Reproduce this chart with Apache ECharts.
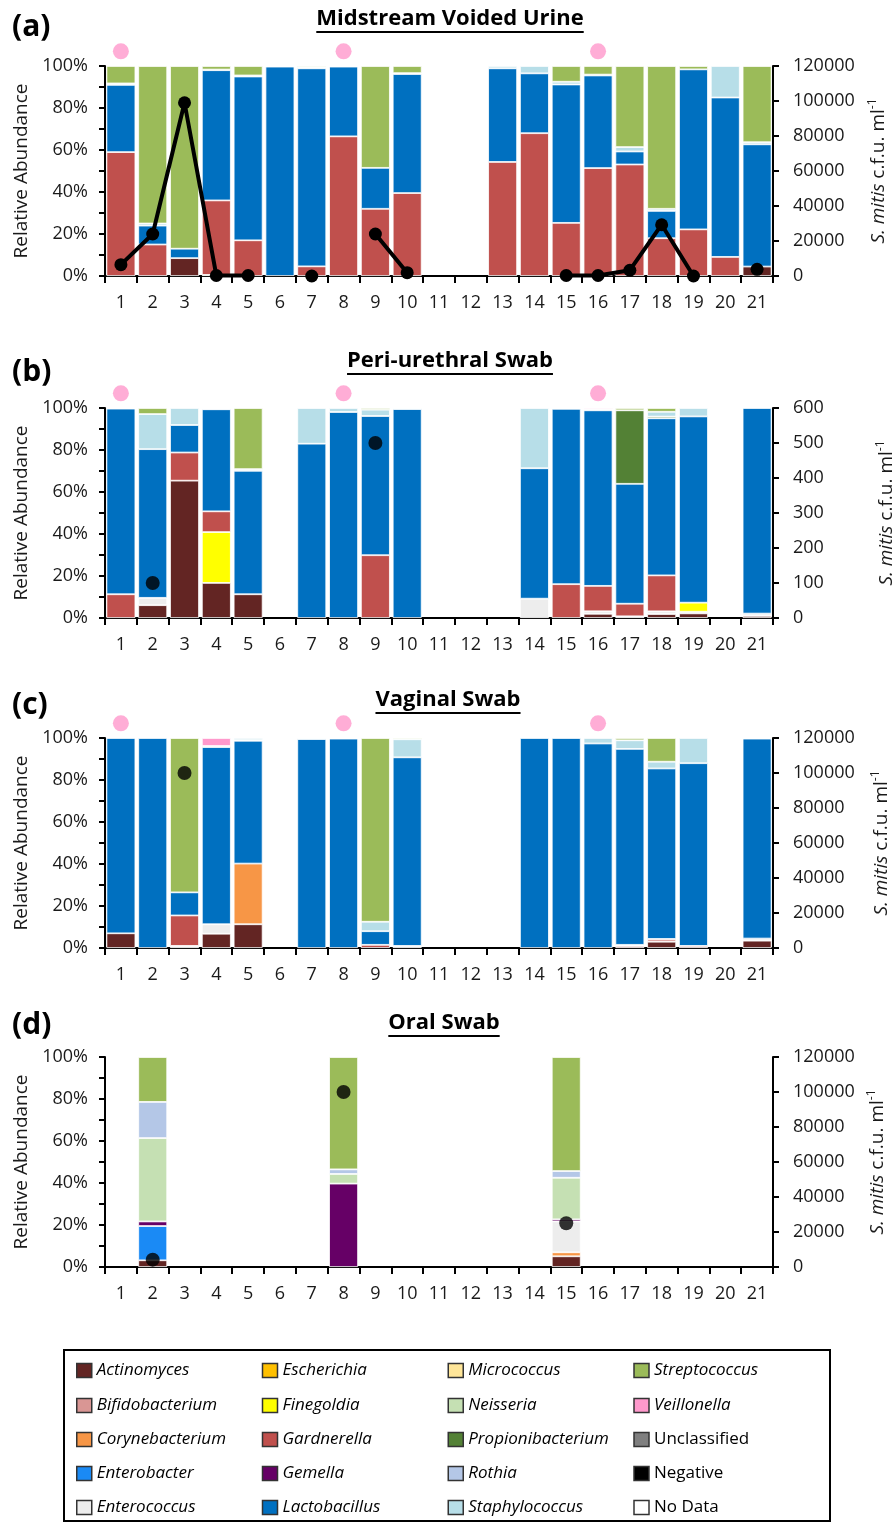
<!DOCTYPE html>
<html>
<head>
<meta charset="utf-8">
<script src="https://cdn.jsdelivr.net/npm/echarts@6/dist/echarts.min.js"></script>
<style>html,body{margin:0;padding:0;background:#fff}#c{width:895px;height:1523px}</style>
</head>
<body>
<div id="c"></div>
<script>
const _ = null;
const samples = ['1','2','3','4','5','6','7','8','9','10','11','12','13','14','15','16','17','18','19','20','21'];
const pctTicks = [0, 20, 40, 60, 80, 100];
const pinkDotSamples = ['1', '8', '16'];

// (a) Midstream Voided Urine
const urineActinomyces      = [_, _, 8.5, _, _, _, _, _, _, _, _, _, _, _, _, _, _, _, _, _, 4.5];
const urineFinegoldia       = [_, _, _, 0.5, _, _, _, _, _, _, _, _, _, _, _, _, _, _, _, _, _];
const urineGardnerella      = [59, 15, _, 35.5, 17, _, 4.6, 66.5, 32, 39.5, _, _, 54.3, 68, 25.3, 51.4, 53.1, 18, 22.2, 9.1, _];
const urineLactobacillus    = [32, 9, 4.5, 62, 78, 99.7, 94.3, 33.2, 19.5, 56.7, _, _, 44.6, 28.5, 65.9, 44.1, 6.2, 13, 76.2, 75.9, 58.2];
const urinePropionibacterium= [_, _, _, 0.3, _, _, _, _, _, _, _, _, _, _, _, _, _, _, _, _, _];
const urineStaphylococcus   = [0.7, 1, _, _, 0.5, 0.3, 0.5, 0.3, _, 0.4, _, _, 1.1, 3.5, 1.3, 0.4, 2.1, 1, _, 15, 1];
const urineStreptococcus    = [8.3, 75, 87, 1.7, 4.5, _, 0.6, _, 48.5, 3.4, _, _, _, _, 7.5, 4.1, 38.6, 68, 1.6, _, 36.3];
const urineMitis            = [6500, 24000, 99000, 300, 300, _, 0, _, 24000, 1900, _, _, _, _, 300, 300, 3300, 29300, 0, _, 3800];

// (b) Peri-urethral Swab
const periActinomyces       = [_, 6.1, 65.4, 16.7, 11.3, _, _, _, _, _, _, _, _, _, _, 2, _, 1.9, 2.2, _, 1];
const periEnterococcus      = [_, 3.5, _, _, _, _, _, _, _, _, _, _, _, 9.2, _, 1.2, 0.8, 1.3, 0.8, _, 1.1];
const periFinegoldia        = [_, _, _, 24.2, _, _, _, _, _, _, _, _, _, _, _, _, _, _, 4.3, _, _];
const periGardnerella       = [11.3, _, 13.4, 9.9, _, _, _, _, 29.9, _, _, _, _, _, 16.1, 12.1, 6, 17.1, _, _, _];
const periLactobacillus     = [88.4, 70.8, 13.1, 48.6, 58.8, _, 83, 98.1, 66.3, 99.5, _, _, _, 62.1, 83.5, 83.6, 57.1, 74.8, 88.7, _, 97.9];
const periPropionibacterium = [_, _, _, 0.4, _, _, _, _, _, _, _, _, _, _, _, _, 35, 0.8, _, _, _];
const periStaphylococcus    = [0.3, 16.7, 8.1, 0.2, 0.8, _, 17, 1.9, 3, 0.5, _, _, _, 28.7, 0.4, 0.5, _, 2.3, 4, _, _];
const periStreptococcus     = [_, 2.9, _, _, 29.1, _, _, _, 0.8, _, _, _, _, _, _, _, 1.1, 1.8, _, _, _];
const periVeillonella       = [_, _, _, _, _, _, _, _, _, _, _, _, _, _, _, 0.6, _, _, _, _, _];
const periMitis             = [_, 100, _, _, _, _, _, _, 500, _, _, _, _, _, _, _, _, _, _, _, _];

// (c) Vaginal Swab
const vagActinomyces        = [7, _, _, 6.8, 11.3, _, _, _, _, _, _, _, _, _, _, _, _, 3, _, _, 3.5];
const vagBifidobacterium    = [_, _, _, _, _, _, _, _, _, _, _, _, _, _, _, _, 1, 1.3, 1, _, _];
const vagCorynebacterium    = [_, _, _, _, 28.9, _, _, _, _, _, _, _, _, _, _, _, _, _, _, _, _];
const vagEnterococcus       = [_, _, 1, 4.5, _, _, _, _, _, 1, _, _, _, _, _, _, 0.5, _, _, _, 1];
const vagGardnerella        = [_, _, 14.5, _, _, _, _, _, 1.5, _, _, _, _, _, _, _, _, _, _, _, _];
const vagLactobacillus      = [93, 100, 11, 84.4, 58.5, _, 99.5, 99.7, 6.5, 89.8, _, _, _, 100, 100, 97.4, 93.3, 81.2, 87, _, 95.2];
const vagPropionibacterium  = [_, _, _, 0.5, 0.3, _, _, _, _, _, _, _, _, _, _, _, _, _, _, _, _];
const vagStaphylococcus     = [_, _, _, _, 1, _, 0.5, 0.3, 4.5, 8.6, _, _, _, _, _, 2.6, 4.1, 3.2, 12, _, 0.3];
const vagStreptococcus      = [_, _, 73.5, _, _, _, _, _, 87.5, 0.6, _, _, _, _, _, _, 1.1, 11.3, _, _, _];
const vagVeillonella        = [_, _, _, 3.8, _, _, _, _, _, _, _, _, _, _, _, _, _, _, _, _, _];
const vagMitis              = [_, _, 100000, _, _, _, _, _, _, _, _, _, _, _, _, _, _, _, _, _, _];

// (d) Oral Swab
const oralActinomyces       = [_, 3.2, _, _, _, _, _, _, _, _, _, _, _, _, 5.1, _, _, _, _, _, _];
const oralCorynebacterium   = [_, _, _, _, _, _, _, _, _, _, _, _, _, _, 1.9, _, _, _, _, _, _];
const oralEnterobacter      = [_, 16.3, _, _, _, _, _, _, _, _, _, _, _, _, _, _, _, _, _, _, _];
const oralEnterococcus      = [_, _, _, _, _, _, _, _, _, _, _, _, _, _, 14.7, _, _, _, _, _, _];
const oralGemella           = [_, 2.2, _, _, _, _, _, 39.7, _, _, _, _, _, _, 1, _, _, _, _, _, _];
const oralNeisseria         = [_, 39.7, _, _, _, _, _, 4.6, _, _, _, _, _, _, 19.8, _, _, _, _, _, _];
const oralRothia            = [_, 17.2, _, _, _, _, _, 2.2, _, _, _, _, _, _, 3.2, _, _, _, _, _, _];
const oralStreptococcus     = [_, 21.4, _, _, _, _, _, 53.5, _, _, _, _, _, _, 54.3, _, _, _, _, _, _];
const oralMitis             = [_, 4200, _, _, _, _, _, 100000, _, _, _, _, _, _, 25000, _, _, _, _, _, _];

const genera = ['Actinomyces','Bifidobacterium','Corynebacterium','Enterobacter','Enterococcus','Escherichia','Finegoldia','Gardnerella','Gemella','Lactobacillus','Micrococcus','Neisseria','Propionibacterium','Rothia','Staphylococcus','Streptococcus','Veillonella','Unclassified'];
const legendRows = [
  ['Actinomyces','Escherichia','Micrococcus','Streptococcus'],
  ['Bifidobacterium','Finegoldia','Neisseria','Veillonella'],
  ['Corynebacterium','Gardnerella','Propionibacterium','Unclassified'],
  ['Enterobacter','Gemella','Rothia','Negative'],
  ['Enterococcus','Lactobacillus','Staphylococcus','No Data']
];
const plainNames = ['Unclassified','Negative','No Data'];

const palette = {
  Actinomyces:'#632523', Bifidobacterium:'#D99694', Corynebacterium:'#F79646', Enterobacter:'#1A8AF5',
  Enterococcus:'#EDEDED', Escherichia:'#FFC000', Finegoldia:'#FFFF00', Gardnerella:'#C0504D',
  Gemella:'#660066', Lactobacillus:'#0070C0', Micrococcus:'#FFE699', Neisseria:'#C5E0B3',
  Propionibacterium:'#538135', Rothia:'#B4C7E7', Staphylococcus:'#B7DEE8', Streptococcus:'#9BBB59',
  Veillonella:'#FF99CC', Unclassified:'#7F7F7F', Negative:'#000000', 'No Data':'#FFFFFF'
};

const panels = [
  { title:'Midstream Voided Urine', letter:'(a)', mitisMax:120000, mitisStep:20000, mitisLine:true, pink:true, mitis:urineMitis,
    data:{Actinomyces:urineActinomyces, Finegoldia:urineFinegoldia, Gardnerella:urineGardnerella, Lactobacillus:urineLactobacillus,
          Propionibacterium:urinePropionibacterium, Staphylococcus:urineStaphylococcus, Streptococcus:urineStreptococcus} },
  { title:'Peri-urethral Swab', letter:'(b)', mitisMax:600, mitisStep:100, mitisLine:false, pink:true, mitis:periMitis,
    data:{Actinomyces:periActinomyces, Enterococcus:periEnterococcus, Finegoldia:periFinegoldia, Gardnerella:periGardnerella,
          Lactobacillus:periLactobacillus, Propionibacterium:periPropionibacterium, Staphylococcus:periStaphylococcus,
          Streptococcus:periStreptococcus, Veillonella:periVeillonella} },
  { title:'Vaginal Swab', letter:'(c)', mitisMax:120000, mitisStep:20000, mitisLine:false, pink:true, mitis:vagMitis,
    data:{Actinomyces:vagActinomyces, Bifidobacterium:vagBifidobacterium, Corynebacterium:vagCorynebacterium, Enterococcus:vagEnterococcus,
          Gardnerella:vagGardnerella, Lactobacillus:vagLactobacillus, Propionibacterium:vagPropionibacterium,
          Staphylococcus:vagStaphylococcus, Streptococcus:vagStreptococcus, Veillonella:vagVeillonella} },
  { title:'Oral Swab', letter:'(d)', mitisMax:120000, mitisStep:20000, mitisLine:false, pink:false, mitis:oralMitis,
    data:{Actinomyces:oralActinomyces, Corynebacterium:oralCorynebacterium, Enterobacter:oralEnterobacter, Enterococcus:oralEnterococcus,
          Gemella:oralGemella, Neisseria:oralNeisseria, Rothia:oralRothia, Streptococcus:oralStreptococcus} }
];

// layout
const FONT = '"Open Sans", "Noto Sans", sans-serif';
const gridTops = [66, 408, 738, 1057];
const gridH = 210;
const rightNameGap = [94, 102, 97, 92];
const titlePos = [[450, 19], [450, 361], [448, 700], [444, 1023]];
const letterPos = [[12, 27], [12, 372], [12, 705], [12, 1025]];
const TXT = '#1a1a1a';

const grids = [], xAxes = [], yAxes = [], series = [];
panels.forEach((p, i) => {
  grids.push({ left:105, right:122, top:gridTops[i], height:gridH, outerBoundsMode:'none', containLabel:false });
  xAxes.push({
    type:'category', gridIndex:i, data:samples,
    axisLine:{ show:true, lineStyle:{ color:'#000', width:2 } },
    axisTick:{ show:true, length:7, alignWithLabel:false, lineStyle:{ color:'#000', width:2 } },
    axisLabel:{ fontSize:18, color:TXT, fontFamily:FONT, margin:18, interval:0 },
    splitLine:{ show:false }
  });
  yAxes.push({
    type:'value', gridIndex:i, position:'left', min:0, max:100, interval:10,
    name:'Relative Abundance', nameLocation:'middle', nameGap:70, nameRotate:90,
    nameTextStyle:{ fontSize:19, color:TXT, fontFamily:FONT },
    axisLine:{ show:true, lineStyle:{ color:'#000', width:2 } },
    axisTick:{ show:true, length:6, lineStyle:{ color:'#000', width:2 } },
    axisLabel:{ fontSize:18, color:TXT, fontFamily:FONT, margin:17,
      formatter: v => pctTicks.indexOf(v) >= 0 ? v + '%' : '' },
    splitLine:{ show:false }
  });
  yAxes.push({
    type:'value', gridIndex:i, position:'right', min:0, max:p.mitisMax, interval:p.mitisStep,
    name:'{i|S. mitis} {n|c.f.u. ml}{s|-1}', nameLocation:'middle', nameGap:rightNameGap[i], nameRotate:90,
    nameTextStyle:{ fontSize:19, color:TXT, fontFamily:FONT,
      rich:{ i:{ fontStyle:'italic', fontSize:19, color:TXT, fontFamily:FONT, lineHeight:24 },
             n:{ fontSize:19, color:TXT, fontFamily:FONT, lineHeight:24 },
             s:{ fontSize:12, color:TXT, fontFamily:FONT, lineHeight:24, verticalAlign:'top', padding:[0,0,10,0] } } },
    axisLine:{ show:true, lineStyle:{ color:'#000', width:2 } },
    axisTick:{ show:true, length:6, lineStyle:{ color:'#000', width:2 } },
    axisLabel:{ fontSize:18, color:TXT, fontFamily:FONT, margin:20, formatter: v => String(v) },
    splitLine:{ show:false }
  });
  genera.forEach(g => {
    series.push({
      type:'bar', name:g, stack:'s' + i, xAxisIndex:i, yAxisIndex:2*i,
      data: p.data[g] || [],
      barCategoryGap:'9%',
      itemStyle:{ color:palette[g], borderColor:'#ffffff', borderWidth:0.8 },
      emphasis:{ disabled:true }
    });
  });
  if (p.mitisLine) {
    series.push({
      type:'line', name:'S. mitis ' + i, xAxisIndex:i, yAxisIndex:2*i+1, data:p.mitis,
      connectNulls:false, showSymbol:true, showAllSymbol:true, symbol:'circle', symbolSize:13,
      lineStyle:{ color:'#000', width:4 }, itemStyle:{ color:'#000' }, clip:false, z:5,
      emphasis:{ disabled:true }
    });
  } else {
    series.push({
      type:'scatter', name:'S. mitis ' + i, xAxisIndex:i, yAxisIndex:2*i+1, data:p.mitis,
      symbol:'circle', symbolSize:14, itemStyle:{ color:'#000' }, clip:false, z:5,
      emphasis:{ disabled:true }
    });
  }
  if (p.pink) {
    series.push({
      type:'scatter', name:'pink ' + i, xAxisIndex:i, yAxisIndex:2*i,
      data: pinkDotSamples.map(s => [s, 107]),
      symbol:'circle', symbolSize:16, itemStyle:{ color:'#FF99CC' }, clip:false, z:5,
      emphasis:{ disabled:true }
    });
  }
});
// legend-only entries (same stack so they take no bar slot)
series.push({ type:'bar', name:'Negative', stack:'s0', xAxisIndex:0, yAxisIndex:0, data:[], itemStyle:{ color:palette['Negative'] } });
series.push({ type:'bar', name:'No Data', stack:'s0', xAxisIndex:0, yAxisIndex:0, data:[], itemStyle:{ color:palette['No Data'] } });

const legendRowY = [1370, 1405, 1439, 1473, 1507];
const legends = legendRows.map((names, ri) => ({
  orient:'horizontal', left:76, top:legendRowY[ri] - 8, itemWidth:15, itemHeight:14, itemGap:5,
  icon:'rect', selectedMode:false, padding:0,
  data: names.map(n => ({ name:n, textStyle:{ fontStyle: plainNames.indexOf(n) >= 0 ? 'normal' : 'italic' } })),
  textStyle:{ fontSize:17, color:'#000', fontFamily:FONT, width:160, overflow:'none', lineHeight:16 },
  itemStyle:{ borderColor:'#333', borderWidth:1.5 }
}));

// titles with underline
const mctx = document.createElement('canvas').getContext('2d');
const titleFont = 'bold 22px "Open Sans"';
mctx.font = titleFont;
const graphics = [];
panels.forEach((p, i) => {
  const [tx, ty] = titlePos[i];
  const w = mctx.measureText(p.title).width;
  graphics.push({ type:'text', x:tx, y:ty, style:{ text:p.title, font:titleFont, fill:'#000', align:'center', verticalAlign:'middle', textAlign:'center', textVerticalAlign:'middle' } });
  graphics.push({ type:'line', shape:{ x1:tx - w/2, y1:ty + 13, x2:tx + w/2, y2:ty + 13 }, style:{ stroke:'#000', lineWidth:2 } });
  const [lx, ly] = letterPos[i];
  graphics.push({ type:'text', x:lx, y:ly, style:{ text:p.letter, font:'bold 30px "Open Sans"', fill:'#000', align:'left', verticalAlign:'middle', textAlign:'left', textVerticalAlign:'middle' } });
});
graphics.push({ type:'rect', shape:{ x:64, y:1350, width:766, height:171 }, style:{ fill:'none', stroke:'#000', lineWidth:2 }, z:-1 });

const chart = echarts.init(document.getElementById('c'), null, { renderer:'canvas' });
chart.setOption({
  backgroundColor:'#fff',
  animation:false,
  grid:grids, xAxis:xAxes, yAxis:yAxes, series:series,
  legend:legends, graphic:graphics, tooltip:{ show:false }
});
</script>
</body>
</html>
